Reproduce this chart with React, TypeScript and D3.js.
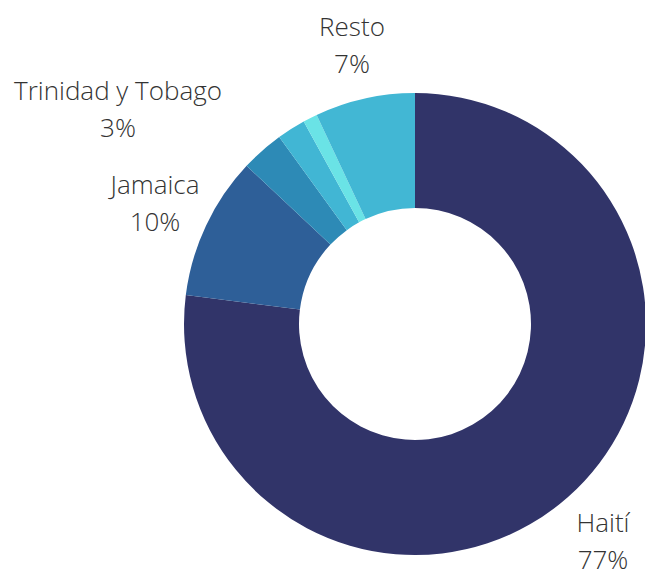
import React from "react";
import * as d3 from "d3";

const categories = ["Haití", "Jamaica", "Trinidad y Tobago", "Otro A", "Otro B", "Resto"];
const values = [77, 10, 3, 2, 1, 7];
const percentLabels = ["77%", "10%", "3%", "", "", "7%"];
const showLabel = [true, true, true, false, false, true];
const colors = ["#313469", "#2e5f98", "#2d8ab6", "#41b6d4", "#6ae3e6", "#42b7d4"];

const W = 645;
const H = 569;
const CX = 415;
const CY = 324;
const R_OUT = 231;
const R_IN = 116;
// label anchor positions (layout)
const labelPos: [number, number][] = [
  [603, 532],
  [155, 194],
  [118, 100],
  [0, 0],
  [0, 0],
  [352, 36],
];

export default function App() {
  const pie = d3.pie<number>().value((d) => d).sort(null);
  const arcs = pie(values);
  const arc = d3.arc<d3.PieArcDatum<number>>().innerRadius(R_IN).outerRadius(R_OUT);
  return (
    <svg width={W} height={H} style={{ position: "absolute", left: 0, top: 0 }}>
      <g transform={`translate(${CX},${CY})`}>
        {arcs.map((a, i) => (
          <path key={i} d={arc(a) || ""} fill={colors[i]} />
        ))}
      </g>
      {categories.map((c, i) =>
        showLabel[i] ? (
          <text
            key={c}
            x={labelPos[i][0]}
            y={labelPos[i][1]}
            textAnchor="middle"
            fontFamily="'Open Sans', sans-serif"
            fontWeight={300}
            fontSize={26}
            fill="#333333"
          >
            <tspan x={labelPos[i][0]}>{c}</tspan>
            <tspan x={labelPos[i][0]} dy={36.5}>{percentLabels[i]}</tspan>
          </text>
        ) : null
      )}
    </svg>
  );
}
